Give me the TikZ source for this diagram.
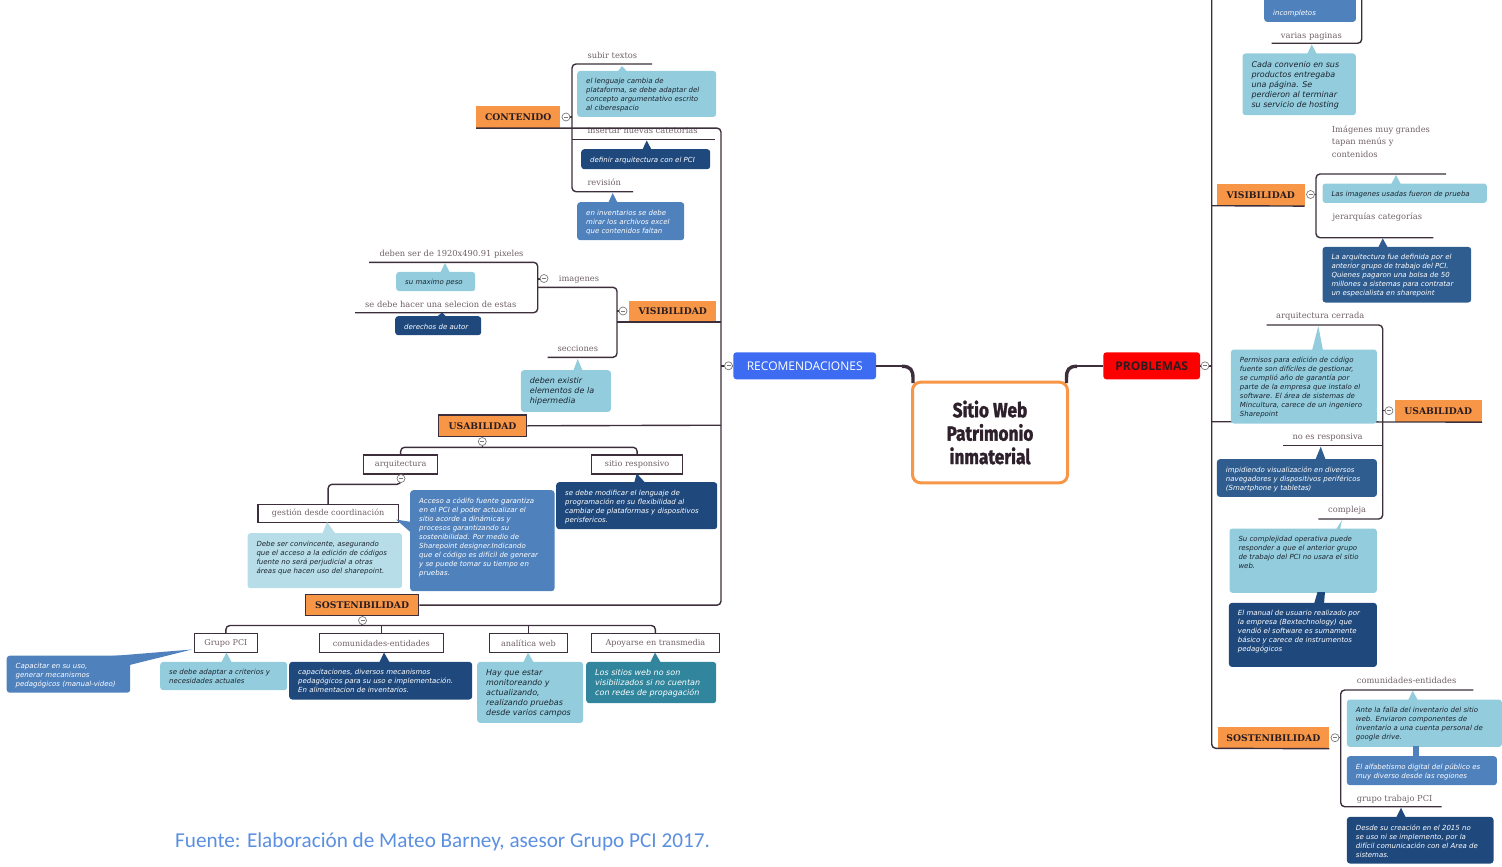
\documentclass[tikz,border=0pt]{standalone}
\usepackage{graphicx}
\usepackage{fontspec}
\setmainfont{Open Sans}
\newfontfamily\slabf{DejaVu Serif}
\newfontfamily\notef{DejaVu Sans}
\newfontfamily\headsf{Open Sans}
\newfontfamily\titlef[BoldFeatures={FakeBold=1.6}]{Fira Sans}
\newfontfamily\footf{Carlito}

\definecolor{lineC}{HTML}{3C2F3B}
\definecolor{foldC}{HTML}{7A7A7A}
\definecolor{orangeC}{HTML}{F79646}
\definecolor{lightC}{HTML}{93CDDD}
\definecolor{paleC}{HTML}{B7DEE8}
\definecolor{midC}{HTML}{4F81BD}
\definecolor{darkC}{HTML}{1F497D}
\definecolor{navyC}{HTML}{2F5D90}
\definecolor{tealC}{HTML}{31859C}
\definecolor{recC}{HTML}{3D6CF2}
\definecolor{probC}{HTML}{FF0000}
\definecolor{labelC}{HTML}{6F6068}
\definecolor{headC}{HTML}{2A1C20}
\definecolor{titleC}{HTML}{2D1F2B}
\definecolor{noteDark}{HTML}{1C2430}
\definecolor{footC}{HTML}{5B8FE0}

\tikzset{
  link/.style={draw=lineC, line width=1.4pt, rounded corners=4pt},
  fold/.style={circle, draw=foldC, fill=white, line width=0.7pt, minimum size=8pt, inner sep=0pt,
    path picture={\draw[foldC, line width=0.7pt]
      ([xshift=-2pt]path picture bounding box.center) -- ([xshift=2pt]path picture bounding box.center);}},
  lbl/.style={font=\slabf\fontsize{8.3}{12.5}\selectfont, text=labelC, inner sep=0pt, anchor=base west},
  head/.style={fill=orangeC, font=\slabf\bfseries\fontsize{9.2}{10}\selectfont, text=headC,
    inner sep=0pt, anchor=north west},
  tagbox/.style={draw=lineC, line width=1.3pt, fill=white, font=\slabf\fontsize{8.1}{9}\selectfont,
    text=labelC, inner sep=0pt, anchor=north west},
  notebox/.style={rounded corners=3pt, inner sep=0pt, anchor=north west},
  notetext/.style={inner sep=0pt, anchor=north west, align=left},
  fs/.style={font=\notef\itshape\fontsize{7}{9}\selectfont},
  fm/.style={font=\notef\itshape\fontsize{8}{10}\selectfont},
}

% callout: name, fill, text colour, x, y (top left), width, height, font style, text
\newcommand\note[9]{%
  \node[notebox, fill=#2, minimum width=#6, minimum height=#7] (#1) at (#4,#5) {};
  \node[notetext, #8, text=#3] (#1t) at ([xshift=9pt,yshift=-7.5pt]#1.north west) {#9};}
% callout pointer: colour, three corners
\newcommand\ptr[4]{\fill[#1] (#2) -- (#3) -- (#4) -- cycle;}

\begin{document}
\begin{tikzpicture}[x=1pt,y=-1pt]
\useasboundingbox (0,0) rectangle (1502,867);
\clip (0,0) rectangle (1502,867);

% ---------------- labels written over branch lines ----------------
\node[lbl] (lsub) at (587.3,58.5) {subir textos};
\node[lbl] (lins) at (587.3,133.5) {insertar nuevas catetorias};
\node[lbl] (lrev) at (587.3,185.8) {revisión};
\node[lbl] (lpix) at (379.3,256) {deben ser de 1920x490.91 pixeles};
\node[lbl] (lsel) at (365,307) {se debe hacer una selecion de estas};
\node[lbl] (limg) at (558.7,281.5) {imagenes};
\node[lbl] (lsec) at (557.3,351.5) {secciones};

\node[lbl] (lvar) at (1280.7,38.5) {varias paginas};
\node[lbl, anchor=west, align=left] (lgra) at (1331.7,141.5) {Imágenes muy grandes\\tapan menús y\\contenidos};
\node[lbl] (ljer) at (1332.3,219.5) {jerarquías categorías};
\node[lbl] (lcer) at (1276,318.8) {arquitectura cerrada};
\node[lbl] (lres) at (1292.3,439.5) {no es responsiva};
\node[lbl] (lcom) at (1328,512.8) {compleja};
\node[lbl] (lent) at (1356.7,683.8) {comunidades-entidades};
\node[lbl] (lgru) at (1356.7,801.8) {grupo trabajo PCI};

% ---------------- main topics ----------------
\node[draw=orangeC, line width=3pt, rounded corners=8pt, fill=white, minimum width=155,
  minimum height=100.6, inner sep=0pt, align=center, text=titleC,
  font=\titlef\bfseries\fontsize{20.5}{23.4}\selectfont] (root) at (990,432.5)
  {\scalebox{0.84}[1]{Sitio Web}\\\scalebox{0.84}[1]{Patrimonio}\\\scalebox{0.84}[1]{inmaterial}};

\node[fill=recC, rounded corners=3pt, minimum width=142.7, minimum height=27, inner sep=0pt,
  text=white, font=\headsf\fontsize{12}{13}\selectfont] (rec) at (804.7,365.8) {RECOMENDACIONES};
\node[fill=probC, rounded corners=3pt, minimum width=96.7, minimum height=27, inner sep=0pt,
  text=headC, font=\headsf\bfseries\fontsize{12}{13}\selectfont] (prob) at (1151.7,365.8) {PROBLEMAS};

% connectors from the root
\draw[link] (rec.east) -- (904,365.8);
\draw[lineC, line width=3.4pt] (902,366.3) .. controls (910.5,366.3) and (913,370) .. (913,378) -- (913,383);
\draw[link] (prob.west) -- (1075,365.8);
\draw[lineC, line width=3.4pt] (1077,366.3) .. controls (1068.5,366.3) and (1066.5,370) .. (1066.5,378) -- (1066.5,383);

% ---------------- left side: RECOMENDACIONES ----------------
\node[head, minimum width=84, minimum height=21.7] (cont) at (476,106) {CONTENIDO};
\node[head, minimum width=87, minimum height=21] (visL) at (629,300.7) {VISIBILIDAD};
\node[head, draw=lineC, line width=1.3pt, minimum width=88.3, minimum height=21.7] (usaL) at (437.7,414.3) {USABILIDAD};
\node[head, draw=lineC, line width=1.3pt, minimum width=113, minimum height=21] (sosL) at (305,594) {SOSTENIBILIDAD};

% trunk
\draw[link] (cont.south west) -- ++(245,0) |- (sosL.east);
\draw[link] (rec.west) -- (721,365.8);
\draw[link] ([xshift=-12pt]visL.south west) -- ([xshift=5pt]visL.south east);
\draw[link] (usaL.east) -- (721,425.2);

% CONTENIDO children
\draw[link] (652,64) -- (572,64) -- (572,191.7) -- (633,191.7);
\draw[link] (572,139.3) -- (715,139.3);
\draw[link] (566,117) -- (572,117);

% VISIBILIDAD children
\draw[link] (538,287.3) -- (617,287.3) -- (617,357.3) -- (547.7,357.3);
\draw[link] (623,311) -- (617,311);
\draw[link] (369,262.3) -- (537.7,262.3) -- (537.7,312.7) -- (355,312.7);
\draw[link] (544,279) -- (537.7,279);

% USABILIDAD children
\node[tagbox, minimum width=74, minimum height=19] (arq) at (363,454.3) {arquitectura};
\node[tagbox, minimum width=91, minimum height=19] (sit) at (591,454.3) {sitio responsivo};
\node[tagbox, minimum width=140.4, minimum height=17.7] (gest) at (257.3,504) {gestión desde coordinación};
\draw[link] (arq.north) -- ++(0,-7) -| (sit.north);
\draw[link] (482.3,442) -- (482.3,447.3);
\draw[link] (401,479) -- (401,484.3) -| (gest.north);

% SOSTENIBILIDAD children
\node[tagbox, minimum width=62.5, minimum height=19] (gpci) at (194,633) {Grupo PCI};
\node[tagbox, minimum width=124.5, minimum height=19] (comu) at (318.5,633) {comunidades-entidades};
\node[tagbox, minimum width=77.5, minimum height=19] (anal) at (489,633) {analítica web};
\node[tagbox, minimum width=128.5, minimum height=19] (apo) at (590.5,633) {Apoyarse en transmedia};
\draw[link] (gpci.north) -- ++(0,-7.5) -| (apo.north);
\draw[link] (comu.north) -- ++(0,-7.5);
\draw[link] (anal.north) -- ++(0,-7.5);
\draw[link] (362,621) -- (362,625.5);

% callouts, left side
\ptr{lightC}{617,72.5}{622,66}{628,72.5}
\note{n1}{lightC}{noteDark}{577}{70.7}{139}{46}{fs}{el lenguaje cambia de\\plataforma, se debe adaptar del\\concepto argumentativo escrito\\al ciberespacio}
\ptr{darkC}{642,150.5}{646.7,140.5}{652,150.5}
\note{n2}{darkC}{white}{581}{149}{129}{20}{fs}{definir arquitectura con el PCI}
\ptr{midC}{608,203.5}{612.7,193}{618,203.5}
\note{n3}{midC}{white}{577}{202}{107}{38}{fs}{en inventarios se debe\\mirar los archivos excel\\que contenidos faltan}
\ptr{lightC}{440,273}{445,263}{450,273}
\note{n4}{lightC}{noteDark}{396}{271.7}{79}{19.3}{fs}{su maximo peso}
\ptr{darkC}{436,317.5}{442,312.5}{447,317.5}
\note{n5}{darkC}{white}{395}{316}{86}{19}{fs}{derechos de autor}
\ptr{lightC}{573,371.5}{577.7,359}{583,371.5}
\note{n6}{lightC}{noteDark}{520.7}{370}{90}{41.7}{fm}{deben existir\\elementos de la\\hipermedia}
\ptr{darkC}{634,483.5}{636.7,473.5}{646,483.5}
\note{n7}{darkC}{white}{556}{482}{161}{47}{fs}{se debe modificar el lenguaje de\\programación en su flexibilidad al\\cambiar de plataformas y dispositivos\\perisfericos.}
\ptr{paleC}{322,534.5}{327,522}{336,534.5}
\note{n8}{paleC}{noteDark}{247.3}{533}{154.7}{55}{fs}{Debe ser convincente, asegurando\\que el acceso a la edición de códigos\\fuente no será perjudicial a otras\\áreas que hacen uso del sharepoint.}
\note{n9}{midC}{white}{410}{490}{144.3}{101}{fs}{Acceso a códifo fuente garantiza\\en el PCI el poder actualizar el\\sitio acorde a dinámicas y\\procesos garantizando su\\sostenibilidad. Por medio de\\Sharepoint designer.Indicando\\que el código es difícil de generar\\y se puede tomar su tiempo en\\pruebas.}
\ptr{midC}{411.5,522}{396,519.5}{411.5,533}
\ptr{midC}{100,657}{192,649.5}{129.5,665}
\note{n10}{midC}{white}{6.5}{655.5}{123.5}{37}{fs}{Capacitar en su uso,\\generar mecanismos\\pedagógicos (manual-video)}
\ptr{lightC}{221,663}{226.5,652.5}{232,663}
\note{n11}{lightC}{noteDark}{160}{661.7}{127}{28.3}{fs}{se debe adaptar a criterios y\\necesidades actuales}
\ptr{darkC}{379,663}{384,652.5}{390,663}
\note{n12}{darkC}{white}{289}{661.7}{183}{37.6}{fs}{capacitaciones, diversos mecanismos\\pedagógicos para su uso e implementación.\\En alimentacion de inventarios.}
\ptr{lightC}{523,663}{528,652.5}{534,663}
\note{n13}{lightC}{noteDark}{477}{661.7}{106}{61}{fm}{Hay que estar\\monitoreando y\\actualizando,\\realizando pruebas\\desde varios campos}
\ptr{tealC}{650,663}{655,652.5}{661,663}
\note{n14}{tealC}{white}{586}{661.7}{130}{41.3}{fm}{Los sitios web no son\\visibilizados si no cuentan\\con redes de propagación}

% fold markers, left side
\node[fold] (f0) at (728.5,365.8) {};
\node[fold] (f1) at (566,117) {};
\node[fold] (f2) at (623,311) {};
\node[fold] (f3) at (544,278.5) {};
\node[fold] (f4) at (482.3,441.5) {};
\node[fold] (f5) at (401,478.5) {};
\node[fold] (f6) at (362.5,620.5) {};

% ---------------- right side: PROBLEMAS ----------------
\node[head, minimum width=87.6, minimum height=21.7] (visR) at (1216.7,184) {VISIBILIDAD};
\node[head, minimum width=87.4, minimum height=21.7] (usaR) at (1394.3,400) {USABILIDAD};
\node[head, minimum width=111.7, minimum height=21.6] (sosR) at (1217.3,726.7) {SOSTENIBILIDAD};

\draw[link] (1211.7,-8) -- (1211.7,748.3) -- (sosR.south east);
\draw[link] (prob.east) -- (1211.7,365.8);
\draw[link] (1211.7,205.7) -- (visR.south east);
\draw[link] (1211.7,421.7) -- (usaR.south east);

% top branch leaving the page
\draw[link] (1361.7,-8) -- (1361.7,43.3) -- (1271.7,43.3);

% VISIBILIDAD children
\draw[link] (1446,174) -- (1316,174) -- (1316,237.7) -- (1433.3,237.7);
\draw[link] (1311,194.5) -- (1316,194.5);
% USABILIDAD children
\draw[link] (1266.7,325) -- (1382.7,325) -- (1382.7,519) -- (1318.3,519);
\draw[link] (1382.7,445.7) -- (1282.7,445.7);
\draw[link] (1389,410.7) -- (1382.7,410.7);
% SOSTENIBILIDAD children
\draw[link] (1473.3,690) -- (1340.7,690) -- (1340.7,806.7) -- (1441.7,806.7);
\draw[link] (1335,737.7) -- (1340.7,737.7);

% callouts, right side
\node[notebox, fill=midC, minimum width=91.7, minimum height=34] (r1) at (1264,-12.3) {};
\node[fs, text=white, anchor=west, inner sep=0pt] (r1t) at (1273,13.3) {incompletos};
\ptr{lightC}{1307,54.5}{1311.7,44.5}{1317,54.5}
\note{r2}{lightC}{noteDark}{1242.3}{53.3}{113.4}{61.7}{fm}{Cada convenio en sus\\productos entregaba\\una página. Se\\perdieron al terminar\\su servicio de hosting}
\ptr{lightC}{1391,184.5}{1396,175}{1401,184.5}
\note{r3}{lightC}{noteDark}{1322.3}{183.3}{164.4}{19.4}{fs}{Las imagenes usadas fueron de prueba}
\ptr{navyC}{1378,248}{1382.7,238.3}{1388,248}
\note{r4}{navyC}{white}{1322.3}{246.7}{148.7}{55.6}{fs}{La arquitectura fue definida por el\\anterior grupo de trabajo del PCI.\\Quienes pagaron una bolsa de 50\\millones a sistemas para contratar\\un especialista en sharepoint}
\ptr{lightC}{1312,350.5}{1318.3,326}{1323,350.5}
\note{r5}{lightC}{noteDark}{1230.7}{349.3}{146}{74}{fs}{Permisos para edición de código\\fuente son difíciles de gestionar,\\se cumplió año de garantía por\\parte de la empresa que instalo el\\software. El área de sistemas de\\Mincultura, carece de un ingeniero\\Sharepoint}
\ptr{navyC}{1315,460.5}{1320.7,446.7}{1326,460.5}
\note{r6}{navyC}{white}{1216.7}{459}{160}{37.7}{fs}{impidiendo visualización en diversos\\navegadores y dispositivos periféricos\\(Smartphone y tabletas)}
\ptr{lightC}{1336,529.5}{1342,520}{1340,529.5}
\note{r7}{lightC}{noteDark}{1229.3}{528.3}{147.4}{64.4}{fs}{Su complejidad operativa puede\\responder a que el anterior grupo\\de trabajo del PCI no usara el sitio\\web.}
\fill[darkC] (1317.5,592) -- (1325,592) -- (1324,604) -- (1314,604) -- cycle;
\note{r8}{darkC}{white}{1228.7}{602.7}{148}{64}{fs}{El manual de usuario realizado por\\la empresa (Bextechnology) que\\vendió el software es sumamente\\básico y carece de instrumentos\\pedagógicos}
\ptr{lightC}{1408,700.5}{1412.7,690.7}{1418,700.5}
\note{r9}{lightC}{noteDark}{1346.7}{699.3}{155}{47.4}{fs}{Ante la falla del inventario del sitio\\web. Enviaron componentes de\\inventario a una cuenta personal de\\google drive.}
\fill[midC] (1412.5,746) -- (1418.5,746) -- (1418.5,757) -- (1412.5,757) -- cycle;
\note{r10}{midC}{white}{1346.7}{756}{150}{29}{fs}{El alfabetismo digital del público es\\muy diverso desde las regiones}
\ptr{darkC}{1396,818}{1401,807.7}{1406,818}
\note{r11}{darkC}{white}{1346.7}{816.7}{146.6}{46.6}{fs}{Desde su creación en el 2015 no\\se uso ni se implemento, por la\\difícil comunicación con el Area de\\sistemas.}

% fold markers, right side
\node[fold] (g0) at (1205,365.8) {};
\node[fold] (g1) at (1310.5,194.5) {};
\node[fold] (g2) at (1389,410.7) {};
\node[fold] (g3) at (1335,737.7) {};

% source line
\node[font=\footf\fontsize{21.2}{24}\selectfont, text=footC, anchor=west, inner sep=0pt] (src)
  at (175,842) {Fuente: Elaboración de Mateo Barney, asesor Grupo PCI 2017.};
\end{tikzpicture}
\end{document}
